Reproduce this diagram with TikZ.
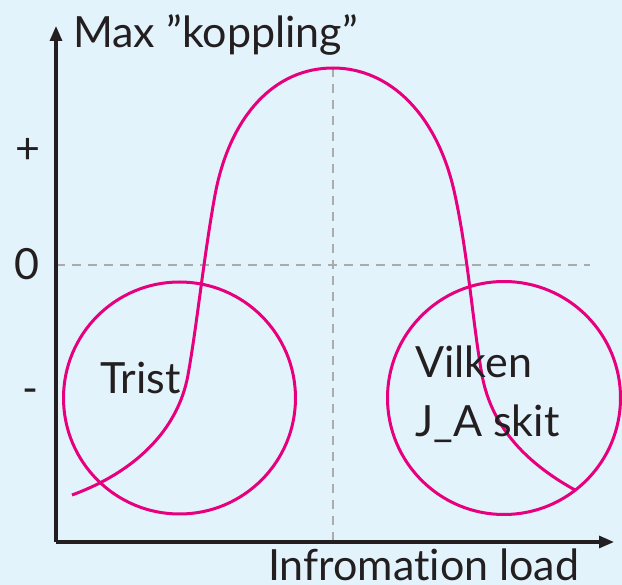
\documentclass[tikz,border=0pt]{standalone}
\usepackage{fontspec}
\setmainfont{Lato}[Ligatures={NoCommon}]
\usetikzlibrary{arrows.meta}
\definecolor{bg}{HTML}{E3F3FC}
\definecolor{pinkline}{HTML}{E6007E}
\definecolor{axisc}{HTML}{231F20}
\definecolor{dashc}{HTML}{ABABAB}
\tikzset{
  axisline/.style={draw=axisc, line width=3.1pt, -{Triangle[length=15pt,width=12pt]}},
  guide/.style={draw=dashc, line width=2.6pt, dash pattern=on 9pt off 7pt},
  pinkc/.style={draw=pinkline, line width=3pt},
  lbl/.style={text=axisc, font=\fontsize{43}{59}\selectfont, inner sep=0pt},
  ring/.style={circle, draw=pinkline, line width=3pt, inner sep=0pt, minimum size=#1}
}
\begin{document}
\begin{tikzpicture}[x=1pt,y=-1pt]
\fill[bg] (0,0) rectangle (622,585);
\useasboundingbox (0,0) rectangle (622,585);
\coordinate (o) at (56,542);
\coordinate (ytop) at (56,26);
\coordinate (xend) at (614,542);
\coordinate (z0) at (56,265);
\coordinate (z1) at (590,265);
\coordinate (v0) at (333,68);
\coordinate (v1) at (333,542);
\coordinate (p0) at (72,495);
\coordinate (p1) at (188,375);
\coordinate (p2) at (215,195);
\coordinate (pk) at (333,68);
\coordinate (q2) at (455,195);
\coordinate (q1) at (482,375);
\coordinate (q0) at (575,490);
\draw[guide] (z0) -- (z1);
\draw[guide] (v0) -- (v1);
\node[ring=232pt] (c1) at (179.5,398) {};
\node[ring=233pt] (c2) at (504,398) {};
\draw[pinkc] (p0) .. controls (135,472) and (178,430) .. (p1)
  .. controls (197,325) and (204,255) .. (p2)
  .. controls (230,115) and (275,68) .. (pk)
  .. controls (390,68) and (438,115) .. (q2)
  .. controls (468,255) and (473,325) .. (q1)
  .. controls (492,430) and (530,465) .. (q0);
\draw[axisline] (o) -- (ytop);
\draw[axisline] (o) -- (xend);
\node[lbl, anchor=base west] (ylab) at (73,48) {Max ”koppling”};
\node[lbl, anchor=base west] (xlab) at (268,580) {Infromation load};
\node[lbl] (plus) at (28,151) {+};
\node[lbl] (zero) at (27,264) {0};
\node[lbl, anchor=base] (minus) at (30,404) {-};
\node[lbl, anchor=base west] (trist) at (100,394) {Trist};
\node[lbl, anchor=base west] (vilken) at (415,378) {Vilken};
\node[lbl, anchor=base west] (ja) at (415,437) {J\_A skit};
\end{tikzpicture}
\end{document}
